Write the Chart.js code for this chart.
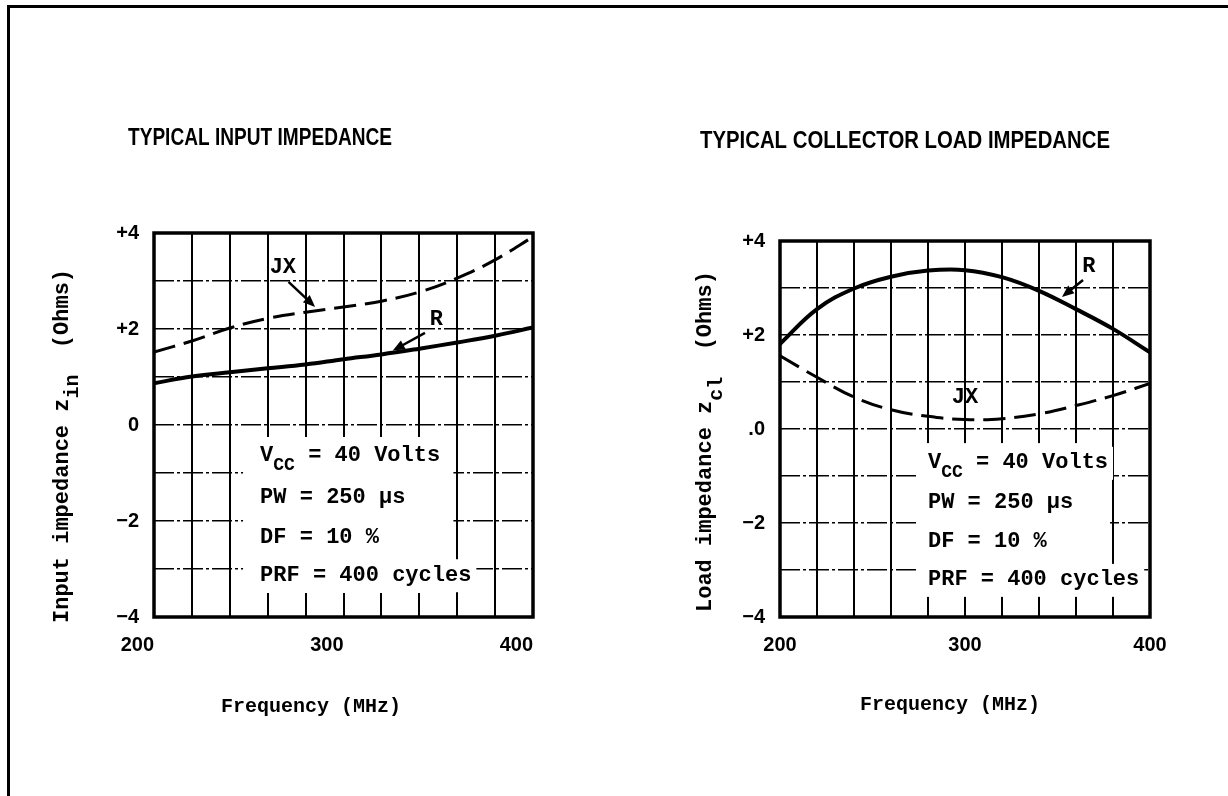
<!DOCTYPE html>
<html>
<head>
<meta charset="utf-8">
<script src="https://cdn.jsdelivr.net/npm/chart.js@4.4.1/dist/chart.umd.min.js"></script>
<style>
  html, body { margin: 0; padding: 0; background: #fff; }
  body { width: 1228px; height: 796px; position: relative; overflow: hidden; }
  .frame { position: absolute; left: 7px; top: 5px; right: -20px; bottom: -20px; border-top: 3px solid #000; border-left: 3px solid #000; }
  .box { position: absolute; top: 100px; height: 660px; }
  #left { left: 20px; width: 580px; }
  #right { left: 640px; width: 588px; }
</style>
</head>
<body>
<div class="frame"></div>
<div class="box" id="left"><canvas id="inputChart" width="580" height="660"></canvas></div>
<div class="box" id="right"><canvas id="loadChart" width="588" height="660"></canvas></div>
<script>
// values (Ohms vs MHz)
const freq = [200, 220, 240, 260, 280, 300, 320, 340, 360, 380, 400];
const inputJX = [1.52, 1.75, 2.02, 2.22, 2.35, 2.46, 2.58, 2.77, 3.06, 3.44, 3.92];
const inputR = [0.87, 1.01, 1.10, 1.18, 1.26, 1.37, 1.47, 1.59, 1.72, 1.86, 2.03];
const loadR = [1.81, 2.55, 2.99, 3.24, 3.37, 3.38, 3.23, 2.94, 2.55, 2.13, 1.63];
const loadJX = [1.56, 1.10, 0.68, 0.41, 0.27, 0.20, 0.22, 0.32, 0.50, 0.71, 0.97];

const xTickValues = [200, 300, 400];
const xTickLabels = ['200', '300', '400'];
const yTickValues = [4, 2, 0, -2, -4];
const inputYTickLabels = ['+4', '+2', '0', '−2', '−4'];
const loadYTickLabels = ['+4', '+2', '.0', '−2', '−4'];

// odd entries are drawn as subscripts
const conditionLines = [
  ['V', 'CC', ' = 40 Volts'],
  ['PW = 250 µs'],
  ['DF = 10 %'],
  ['PRF = 400 cycles']
];

const MONO = '"Liberation Mono", "Courier New", monospace';
const SANS = '"Liberation Sans", Arial, sans-serif';

function drawSegments(ctx, segs, x, y, size, subSize, subShift) {
  segs.forEach((s, i) => {
    const sub = i % 2 === 1;
    ctx.font = 'bold ' + (sub ? subSize : size) + 'px ' + MONO;
    ctx.fillText(s, x, sub ? y + subShift : y);
    x += ctx.measureText(s).width;
  });
  return x;
}

function segWidth(ctx, segs, size, subSize) {
  let w = 0;
  segs.forEach((s, i) => {
    ctx.font = 'bold ' + (i % 2 ? subSize : size) + 'px ' + MONO;
    w += ctx.measureText(s).width;
  });
  return w;
}

function arrow(ctx, x1, y1, x2, y2) {
  const a = Math.atan2(y2 - y1, x2 - x1);
  ctx.beginPath();
  ctx.moveTo(x1, y1);
  ctx.lineTo(x2 - 8 * Math.cos(a), y2 - 8 * Math.sin(a));
  ctx.stroke();
  ctx.beginPath();
  ctx.moveTo(x2, y2);
  ctx.lineTo(x2 - 12 * Math.cos(a) + 5 * Math.sin(a), y2 - 12 * Math.sin(a) - 5 * Math.cos(a));
  ctx.lineTo(x2 - 12 * Math.cos(a) - 5 * Math.sin(a), y2 - 12 * Math.sin(a) + 5 * Math.cos(a));
  ctx.closePath();
  ctx.fill();
}

const notesPlugin = {
  id: 'notes',
  beforeDatasetsDraw(chart, args, opts) {
    const { ctx, chartArea: ca } = chart;
    const xs = chart.scales.x, ys = chart.scales.y;
    ctx.save();
    ctx.fillStyle = '#fff';
    const b = opts.box;
    const bx1 = xs.getPixelForValue(b[0]), bx2 = xs.getPixelForValue(b[1]);
    const by1 = ys.getPixelForValue(b[2]), by2 = ys.getPixelForValue(b[3]);
    ctx.fillRect(bx1, by1, bx2 - bx1, by2 - by1);
    const tx = xs.getPixelForValue(opts.condX);
    conditionLines.forEach((segs, i) => {
      const ty = ys.getPixelForValue(opts.condY[i]);
      const w = segWidth(ctx, segs, 22, 18);
      ctx.fillRect(tx - 3, ty - 16, w + 8, 33);
    });
    // plot frame
    ctx.strokeStyle = '#000';
    ctx.lineWidth = 3.5;
    ctx.strokeRect(ca.left, ca.top, ca.right - ca.left, ca.bottom - ca.top);
    ctx.restore();
  },
  afterDatasetsDraw(chart, args, opts) {
    const { ctx } = chart;
    const xs = chart.scales.x, ys = chart.scales.y;
    ctx.save();
    ctx.fillStyle = '#000';
    ctx.strokeStyle = '#000';
    ctx.textBaseline = 'middle';

    // operating conditions
    ctx.textAlign = 'left';
    const tx = xs.getPixelForValue(opts.condX);
    conditionLines.forEach((segs, i) => {
      drawSegments(ctx, segs, tx, ys.getPixelForValue(opts.condY[i]), 22, 18, 10);
    });

    // curve labels and arrows
    ctx.textAlign = 'center';
    ctx.font = 'bold 22px ' + MONO;
    opts.labels.forEach(l => {
      ctx.fillText(l.text, xs.getPixelForValue(l.at[0]), ys.getPixelForValue(l.at[1]));
    });
    ctx.lineWidth = 2.5;
    opts.arrows.forEach(a => {
      arrow(ctx, xs.getPixelForValue(a.from[0]), ys.getPixelForValue(a.from[1]),
        xs.getPixelForValue(a.to[0]), ys.getPixelForValue(a.to[1]));
    });

    // heading, squeezed like the condensed type of the sheet
    const t = opts.title;
    ctx.font = 'bold 24px "Liberation Sans Narrow", ' + SANS;
    const k = t.width / ctx.measureText(t.text).width;
    ctx.save();
    ctx.translate(t.x, t.y);
    ctx.scale(k, 1);
    ctx.fillText(t.text, 0, 0);
    ctx.restore();

    // x axis title
    ctx.font = 'bold 20px ' + MONO;
    ctx.fillText(opts.xTitle.text, opts.xTitle.x, opts.xTitle.y);

    // y axis title with subscript
    ctx.textAlign = 'left';
    ctx.save();
    ctx.translate(opts.yTitle.x, opts.yTitle.bottom);
    ctx.rotate(-Math.PI / 2);
    drawSegments(ctx, opts.yTitle.segs, 0, 0, 22, 20, opts.yTitle.subShift);
    ctx.restore();
    ctx.restore();
  }
};

function makeChart(id, jx, r, yLabels, pad, yWidth, xAlign, notes) {
  const toPts = arr => freq.map((f, i) => ({ x: f, y: arr[i] }));
  return new Chart(document.getElementById(id), {
    type: 'line',
    data: {
      datasets: [
        { label: 'JX', data: toPts(jx), borderColor: '#000', borderWidth: 3, borderDash: [22, 9], pointRadius: 0, tension: 0.4, fill: false },
        { label: 'R', data: toPts(r), borderColor: '#000', borderWidth: 4, pointRadius: 0, tension: 0.4, fill: false }
      ]
    },
    options: {
      responsive: false,
      animation: false,
      devicePixelRatio: 1,
      layout: { padding: pad },
      plugins: { legend: { display: false }, tooltip: { enabled: false }, notes: notes },
      scales: {
        x: {
          type: 'linear', min: 200, max: 400,
          afterFit: s => { s.height = 143; },
          grid: { color: '#000', lineWidth: 2, drawTicks: false },
          border: { display: false },
          ticks: {
            stepSize: 20, autoSkip: false, maxRotation: 0, padding: 16, align: xAlign,
            color: '#000', font: { family: SANS, size: 20, weight: 'bold' },
            callback: v => { const i = xTickValues.indexOf(v); return i < 0 ? '' : xTickLabels[i]; }
          }
        },
        y: {
          type: 'linear', min: -4, max: 4,
          afterFit: s => { s.width = yWidth; },
          grid: { color: '#000', lineWidth: 1.6, drawTicks: false },
          border: { display: false, dash: [20, 3, 3, 3] },
          ticks: {
            stepSize: 1, autoSkip: false, padding: 15,
            color: '#000', font: { family: SANS, size: 20, weight: 'bold' },
            callback: v => { const i = yTickValues.indexOf(v); return i < 0 ? '' : yLabels[i]; }
          }
        }
      }
    },
    plugins: [notesPlugin]
  });
}

makeChart('inputChart', inputJX, inputR, inputYTickLabels,
  { top: 133, right: 67, bottom: 0, left: 0 }, 134, 'end', {
    title: { text: 'TYPICAL INPUT IMPEDANCE', x: 240, y: 38, width: 264 },
    xTitle: { text: 'Frequency (MHz)', x: 291, y: 607 },
    yTitle: { segs: ['Input impedance z', 'in', '  (Ohms)'], x: 42, bottom: 523, subShift: 11 },
    box: [247, 358, -0.25, -3.5],
    condX: 256,
    condY: [-0.63, -1.5, -2.35, -3.13],
    labels: [{ text: 'JX', at: [268, 3.29] }, { text: 'R', at: [349, 2.19] }],
    arrows: [{ from: [271, 2.98], to: [285, 2.46] }, { from: [343, 1.92], to: [326, 1.55] }]
  });

makeChart('loadChart', loadJX, loadR, loadYTickLabels,
  { top: 141, right: 78, bottom: 0, left: 0 }, 140, 'center', {
    title: { text: 'TYPICAL COLLECTOR LOAD IMPEDANCE', x: 265, y: 41, width: 410 },
    xTitle: { text: 'Frequency (MHz)', x: 310, y: 605 },
    yTitle: { segs: ['Load impedance z', 'cl', '  (Ohms)'], x: 65, bottom: 512, subShift: 12 },
    box: [274.6, 378.4, -0.3, -3.49],
    condX: 280,
    condY: [-0.72, -1.57, -2.4, -3.21],
    labels: [{ text: 'R', at: [367, 3.45] }, { text: 'JX', at: [300, 0.68] }],
    arrows: [{ from: [363.8, 3.17], to: [352.4, 2.81] }]
  });
</script>
</body>
</html>
